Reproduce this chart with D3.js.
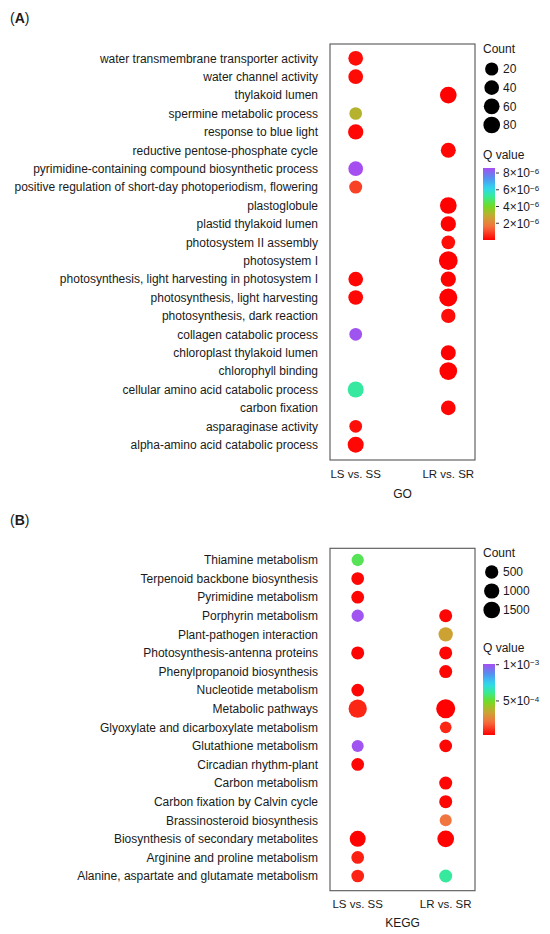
<!DOCTYPE html>
<html>
<head>
<meta charset="utf-8">
<script src="https://cdn.jsdelivr.net/npm/d3@7"></script>
<style>
  body { margin: 0; background: #fff; }
  svg text { font-family: "Liberation Sans", Arial, sans-serif; fill: #1a1a1a; }
</style>
</head>
<body>
<svg id="chart"></svg>
<script>
// ---- data ----
const groups = ['LS vs. SS', 'LR vs. SR'];

const goTerms = [
  'water transmembrane transporter activity',
  'water channel activity',
  'thylakoid lumen',
  'spermine metabolic process',
  'response to blue light',
  'reductive pentose-phosphate cycle',
  'pyrimidine-containing compound biosynthetic process',
  'positive regulation of short-day photoperiodism, flowering',
  'plastoglobule',
  'plastid thylakoid lumen',
  'photosystem II assembly',
  'photosystem I',
  'photosynthesis, light harvesting in photosystem I',
  'photosynthesis, light harvesting',
  'photosynthesis, dark reaction',
  'collagen catabolic process',
  'chloroplast thylakoid lumen',
  'chlorophyll binding',
  'cellular amino acid catabolic process',
  'carbon fixation',
  'asparaginase activity',
  'alpha-amino acid catabolic process'
];
// null = term not enriched in that comparison
const goCountLS = [41, 41, null, 15, 51, null, 41, 18, null, null, null, null, 41, 41, null, 15, null, null, 65, null, 15, 65];
const goQLS     = [2e-7, 1.5e-7, null, 3.1e-6, 1e-7, null, 8.6e-6, 9e-7, null, null, null, null, 1e-7, 1e-7, null, 8.5e-6, null, null, 5.3e-6, null, 2e-7, 1e-7];
const goCountLR = [null, null, 80, null, null, 46, null, null, 80, 51, 26, 133, 51, 113, 35, null, 46, 105, null, 41, null, null];
const goQLR     = [null, null, 1e-8, null, null, 1e-7, null, null, 1e-8, 1e-8, 2e-7, 1e-8, 1e-8, 1e-8, 2e-7, null, 1e-8, 1e-8, null, 1e-7, null, null];
const goCountTicks = [20, 40, 60, 80];
const goQTicks = [[8, -6], [6, -6], [4, -6], [2, -6]];

const keggTerms = [
  'Thiamine metabolism',
  'Terpenoid backbone biosynthesis',
  'Pyrimidine metabolism',
  'Porphyrin metabolism',
  'Plant-pathogen interaction',
  'Photosynthesis-antenna proteins',
  'Phenylpropanoid biosynthesis',
  'Nucleotide metabolism',
  'Metabolic pathways',
  'Glyoxylate and dicarboxylate metabolism',
  'Glutathione metabolism',
  'Circadian rhythm-plant',
  'Carbon metabolism',
  'Carbon fixation by Calvin cycle',
  'Brassinosteroid biosynthesis',
  'Biosynthesis of secondary metabolites',
  'Arginine and proline metabolism',
  'Alanine, aspartate and glutamate metabolism'
];
const keggCountLS = [310, 380, 380, 310, null, 440, null, 380, 2150, null, 260, 380, null, null, null, 1250, 380, 380];
const keggQLS     = [5.5e-4, 4e-5, 4e-5, 1.0e-3, null, 3.5e-5, null, 4e-5, 9e-5, null, 1.0e-3, 4e-5, null, null, null, 3.5e-5, 8e-5, 8.5e-5];
const keggCountLR = [null, null, null, 440, 740, 440, 440, null, 2480, 215, 380, null, 440, 440, 260, 1500, null, 440];
const keggQLR     = [null, null, null, 4e-5, 3.4e-4, 4e-5, 4e-5, null, 3.2e-5, 9e-5, 4e-5, null, 4e-5, 4e-5, 2.2e-4, 3.5e-5, null, 6.3e-4];
const keggCountTicks = [500, 1000, 1500];
const keggQTicks = [[1, -3], [5, -4]];

// rainbow-ish gradient, low q = red, high q = purple
const gradStops = [0, 0.18, 0.33, 0.47, 0.6, 0.72, 0.86, 1];
const gradColors = ['#ff0000', '#f5703f', '#c8a832', '#70dc20', '#38eb94', '#30d8f0', '#5590f0', '#a64ff0'];

class DotPanel {
  constructor(_config) {
    this.config = _config;
    this.initVis();
  }

  initVis() {
    let vis = this;
    const c = vis.config;

    vis.g = d3.select('#chart').append('g');

    vis.yScale = d3.scalePoint().domain(c.terms).range(c.rowRange);
    vis.xScale = d3.scalePoint().domain(groups).range(c.colRange);
    vis.rScale = d3.scalePow().exponent(0.5).domain(c.sizeRef).range(c.rRef);
    vis.tScale = d3.scaleLinear().domain(c.qDomain).range([0, 1]).clamp(true);
    vis.gradScale = d3.scaleLinear().domain(gradStops).range(gradColors).interpolate(d3.interpolateRgb);
    vis.color = q => vis.gradScale(vis.tScale(q));

    // panel tag
    const tag = vis.g.append('text')
        .attr('x', 10)
        .attr('y', c.tagY)
        .style('font-size', '14px');
    tag.append('tspan').text('(');
    tag.append('tspan').style('font-weight', 'bold').text(c.tag);
    tag.append('tspan').text(')');

    // panel border
    vis.g.append('rect')
        .attr('x', c.box[0])
        .attr('y', c.box[1])
        .attr('width', c.box[2] - c.box[0])
        .attr('height', c.box[3] - c.box[1])
        .attr('fill', 'none')
        .attr('stroke', '#555')
        .attr('stroke-width', 1.1);

    vis.updateVis();
  }

  updateVis() {
    let vis = this;
    const c = vis.config;

    // term labels
    vis.g.selectAll('.term')
        .data(c.terms)
      .join('text')
        .attr('class', 'term')
        .attr('x', c.labelX)
        .attr('y', d => vis.yScale(d))
        .attr('dy', '0.36em')
        .style('text-anchor', 'end')
        .style('font-size', '12px')
        .text(d => d);

    // x labels
    vis.g.selectAll('.grp')
        .data(groups)
      .join('text')
        .attr('class', 'grp')
        .attr('x', d => vis.xScale(d))
        .attr('y', c.tickY)
        .style('text-anchor', 'middle')
        .style('font-size', '11.5px')
        .text(d => d);

    vis.g.append('text')
        .attr('x', (c.box[0] + c.box[2]) / 2)
        .attr('y', c.titleY)
        .style('text-anchor', 'middle')
        .style('font-size', '12px')
        .text(c.title);

    // dots
    const pts = [];
    c.terms.forEach((t, i) => {
      if (c.countLS[i] != null) pts.push({term: t, grp: groups[0], n: c.countLS[i], q: c.qLS[i]});
      if (c.countLR[i] != null) pts.push({term: t, grp: groups[1], n: c.countLR[i], q: c.qLR[i]});
    });
    vis.g.selectAll('.dot')
        .data(pts)
      .join('circle')
        .attr('class', 'dot')
        .attr('cx', d => vis.xScale(d.grp))
        .attr('cy', d => vis.yScale(d.term))
        .attr('r', d => vis.rScale(d.n))
        .attr('fill', d => vis.color(d.q));

    // size legend
    const lx = c.legX;
    vis.g.append('text')
        .attr('x', lx)
        .attr('y', c.countTitleY)
        .style('font-size', '12px')
        .text('Count');
    const sizeY = d3.scalePoint().domain(c.countTicks).range(c.countRange);
    vis.g.selectAll('.lcirc')
        .data(c.countTicks)
      .join('circle')
        .attr('class', 'lcirc')
        .attr('cx', lx + 8.7)
        .attr('cy', d => sizeY(d))
        .attr('r', d => vis.rScale(d))
        .attr('fill', '#000');
    vis.g.selectAll('.llab')
        .data(c.countTicks)
      .join('text')
        .attr('class', 'llab')
        .attr('x', lx + 20)
        .attr('y', d => sizeY(d))
        .attr('dy', '0.36em')
        .style('font-size', '12px')
        .text(d => d);

    // colour bar
    vis.g.append('text')
        .attr('x', lx)
        .attr('y', c.qTitleY)
        .style('font-size', '12px')
        .text('Q value');
    const gid = 'grad' + c.tag;
    const grad = d3.select('#chart').append('defs').append('linearGradient')
        .attr('id', gid)
        .attr('x1', 0).attr('x2', 0).attr('y1', 1).attr('y2', 0);
    d3.range(0, 1.0001, 0.05).forEach(t => {
      grad.append('stop').attr('offset', t).attr('stop-color', vis.gradScale(t));
    });
    const barY = d3.scaleLinear().domain(c.qDomain).range(c.barRange);
    vis.g.append('rect')
        .attr('x', lx)
        .attr('y', c.barRange[1])
        .attr('width', 12)
        .attr('height', c.barRange[0] - c.barRange[1])
        .attr('fill', `url(#${gid})`);
    const ticks = vis.g.selectAll('.qtick')
        .data(c.qTicks)
      .join('g')
        .attr('class', 'qtick')
        .attr('transform', d => `translate(${lx + 12},${barY(d[0] * Math.pow(10, d[1]))})`);
    ticks.append('line')
        .attr('x1', 1).attr('x2', 4)
        .attr('stroke', '#333')
        .attr('stroke-width', 1);
    const tl = ticks.append('text')
        .attr('x', 8)
        .attr('dy', '0.36em')
        .style('font-size', '12px');
    tl.append('tspan').text(d => d[0] + '×10');
    tl.append('tspan')
        .attr('dy', '-0.45em')
        .style('font-size', '8px')
        .text(d => '−' + Math.abs(d[1]));
  }
}

d3.select('#chart').attr('width', 550).attr('height', 934);

new DotPanel({
  tag: 'A', tagY: 23, title: 'GO',
  terms: goTerms,
  countLS: goCountLS, qLS: goQLS, countLR: goCountLR, qLR: goQLR,
  box: [330, 44, 475, 460],
  rowRange: [58.3, 444.7],
  colRange: [355.7, 448.3],
  labelX: 318,
  tickY: 478, titleY: 497.5,
  sizeRef: [20, 80], rRef: [6.6, 8.35],
  qDomain: [0, 8.6e-6],
  legX: 483, countTitleY: 52.5, countTicks: goCountTicks, countRange: [69, 125],
  qTitleY: 158.5, barRange: [240, 168], qTicks: goQTicks
});

new DotPanel({
  tag: 'B', tagY: 525, title: 'KEGG',
  terms: keggTerms,
  countLS: keggCountLS, qLS: keggQLS, countLR: keggCountLR, qLR: keggQLR,
  box: [330, 548.3, 475, 890.7],
  rowRange: [560, 876],
  colRange: [357.7, 445.7],
  labelX: 318,
  tickY: 907.5, titleY: 927,
  sizeRef: [500, 1500], rRef: [6.65, 8.35],
  qDomain: [3e-5, 1.01e-3],
  legX: 483, countTitleY: 556.5, countTicks: keggCountTicks, countRange: [572, 610],
  qTitleY: 652, barRange: [735, 664], qTicks: keggQTicks
});
</script>
</body>
</html>
